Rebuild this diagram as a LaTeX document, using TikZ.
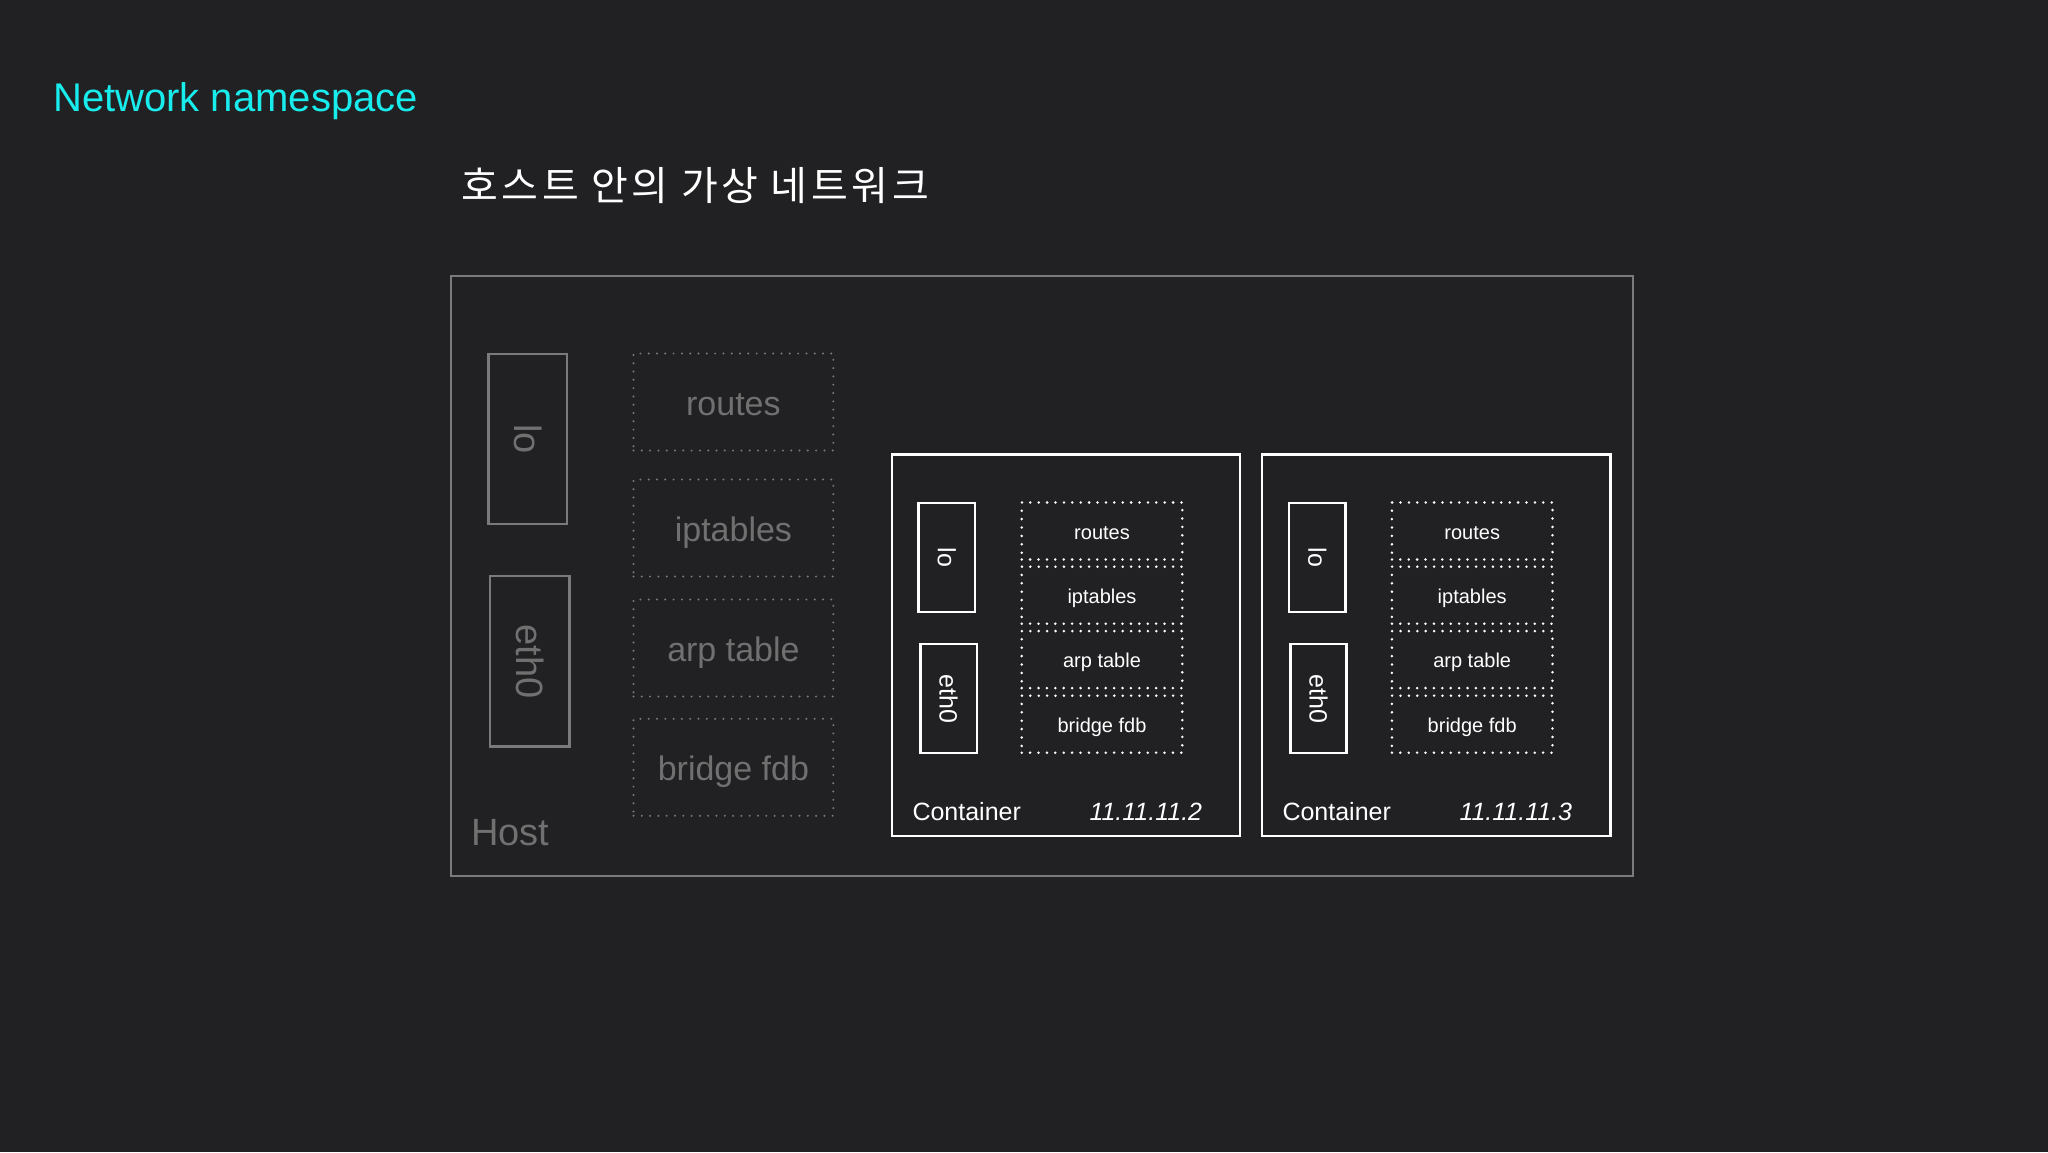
\documentclass[tikz,border=0pt]{standalone}
\usepackage{fontspec}
\setmainfont{Liberation Sans}
\newfontfamily\krfont[LetterSpace=9]{Noto Sans CJK KR}
\definecolor{bgc}{RGB}{33,33,35}
\definecolor{cyanc}{RGB}{24,236,236}
\definecolor{hostline}{RGB}{122,122,122}
\definecolor{hosttext}{RGB}{112,112,112}
\begin{document}
\begin{tikzpicture}[x=1pt,y=-1pt,
  fsz/.style={font=\fontsize{#1}{#1}\selectfont},
  hostbox/.style={draw=hostline,line width=2pt,inner sep=0pt},
  hostif/.style={draw=hostline,line width=2.4pt,inner sep=0pt,rotate=-90,text=hosttext,fsz=38},
  hosttab/.style={draw=hostline,line width=2.2pt,dash pattern=on 0pt off 8.3pt,line cap=round,inner sep=0pt,text=hosttext,fsz=34,minimum width=199.8pt,minimum height=97pt,text height=27pt,text depth=0pt},
  ctbox/.style={draw=white,line width=2.4pt,inner sep=0pt},
  ctif/.style={draw=white,line width=2.6pt,inner sep=0pt,rotate=-90,text=white,fsz=25,minimum width=109pt,minimum height=56.5pt},
  cttab/.style={draw=white,line width=2.8pt,dash pattern=on 0pt off 8.4pt,line cap=round,inner sep=0pt,text=white,fsz=20,minimum width=160.6pt,minimum height=57pt,text height=16pt,text depth=0pt},
  ctlabel/.style={anchor=base west,inner sep=0pt,text=white,fsz=25},
]
\fill[bgc] (0,0) rectangle (2048,1152);
\useasboundingbox (0,0) rectangle (2048,1152);

% titles
\node[anchor=base west,inner sep=0pt,text=cyanc,fsz=40] (title) at (53,111) {Network namespace};
\node[anchor=base west,inner sep=0pt,text=white,font=\krfont\fontsize{40}{40}\selectfont] (subtitle) at (461,200) {호스트 안의 가상 네트워크};

% host
\node[hostbox,minimum width=1182pt,minimum height=600.8pt] (host) at (1041.6,576) {};
\node[anchor=base west,inner sep=0pt,text=hosttext,fsz=38] (hostlabel) at (471,845.6) {Host};
\node[hostif,minimum width=170pt,minimum height=78.5pt] (hlo) at (527.8,439) {lo};
\node[hostif,minimum width=170.5pt,minimum height=79.6pt] (heth) at (529.8,661.3) {eth0};
\node[hosttab] (hroutes) at (733.4,402) {routes};
\node[hosttab] (hipt) at (733.4,528) {iptables};
\node[hosttab] (harp) at (733.4,648) {arp table};
\node[hosttab] (hfdb) at (733.4,767.3) {bridge fdb};

% container 1
\node[ctbox,minimum width=347.7pt,minimum height=381.5pt] (c1) at (1065.85,645.25) {};
\node[ctif] (c1lo) at (946.7,557.5) {lo};
\node[ctif] (c1eth) at (948.6,698.6) {eth0};
\node[cttab] (c1routes) at (1102,531) {routes};
\node[cttab] (c1ipt) at (1102,595.2) {iptables};
\node[cttab] (c1arp) at (1102,659.6) {arp table};
\node[cttab] (c1fdb) at (1102,724.2) {bridge fdb};
\node[ctlabel] (c1name) at (912.3,820) {Container};
\node[ctlabel,font=\fontsize{25}{25}\selectfont\itshape] (c1ip) at (1089.3,820) {11.11.11.2};

% container 2
\node[ctbox,minimum width=348.9pt,minimum height=381.5pt] (c2) at (1436.15,645.25) {};
\node[ctif] (c2lo) at (1317.3,557.5) {lo};
\node[ctif] (c2eth) at (1318.5,698.6) {eth0};
\node[cttab] (c2routes) at (1472.2,531) {routes};
\node[cttab] (c2ipt) at (1472.2,595.2) {iptables};
\node[cttab] (c2arp) at (1472.2,659.6) {arp table};
\node[cttab] (c2fdb) at (1472.2,724.2) {bridge fdb};
\node[ctlabel] (c2name) at (1282.3,820) {Container};
\node[ctlabel,font=\fontsize{25}{25}\selectfont\itshape] (c2ip) at (1459.3,820) {11.11.11.3};
\end{tikzpicture}
\end{document}
